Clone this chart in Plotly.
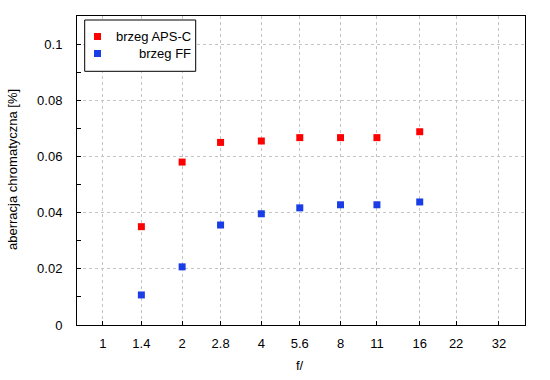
import plotly.graph_objects as go
import math

f_stops = [1, 1.4, 2, 2.8, 4, 5.6, 8, 11, 16, 22, 32]
f_labels = ["1", "1.4", "2", "2.8", "4", "5.6", "8", "11", "16", "22", "32"]

x_points = [1.4, 2, 2.8, 4, 5.6, 8, 11, 16]
aps_c = [0.035, 0.058, 0.065, 0.0655, 0.0667, 0.0667, 0.0667, 0.0688]
ff = [0.0107, 0.0207, 0.0356, 0.0396, 0.0417, 0.0428, 0.0428, 0.0438]

series_names = ["brzeg APS-C", "brzeg FF"]
series_colors = ["#ff0000", "#1a3de6"]

y_ticks = [0, 0.02, 0.04, 0.06, 0.08, 0.1]
y_labels = ["0", "0.02", "0.04", "0.06", "0.08", "0.1"]

x_title = "f/"
y_title = "aberracja chromatyczna [%]"

FONT = "Liberation Sans, Arial, sans-serif"
FS = 13

fig = go.Figure()
for name, vals, col in zip(series_names, [aps_c, ff], series_colors):
    fig.add_trace(go.Scatter(
        x=x_points, y=vals, mode="markers", name=name,
        marker=dict(symbol="square", size=7, color=col, line=dict(width=0)),
        showlegend=False, cliponaxis=False,
    ))

W, H = 550, 380
ml, mr, mt, mb = 77, 25, 16, 55
pw, ph = W - ml - mr, H - mt - mb

def px(x):
    return (x - ml) / pw

def py(y):
    return 1 - (y - mt) / ph

# custom legend (right-aligned text, boxed)
L, R = 84.7, 195.7
T, B = 20, 71.3
shapes = [dict(type="rect", xref="paper", yref="paper",
               x0=px(L), x1=px(R), y0=py(B), y1=py(T),
               line=dict(color="black", width=1), fillcolor="white", layer="above")]
annotations = []
rows_y = [36.5, 53.5]
for name, col, yy in zip(series_names, series_colors, rows_y):
    shapes.append(dict(type="rect", xref="paper", yref="paper",
                       x0=px(94), x1=px(101), y0=py(yy + 3.5), y1=py(yy - 3.5),
                       line=dict(width=0), fillcolor=col, layer="above"))
    annotations.append(dict(xref="paper", yref="paper", x=px(193), y=py(yy),
                            text=name, showarrow=False, xanchor="right", yanchor="middle",
                            font=dict(family=FONT, size=FS, color="black")))

# axis titles
annotations.append(dict(xref="paper", yref="paper", x=px(300), y=py(365),
                        text=x_title, showarrow=False, xanchor="center", yanchor="middle",
                        font=dict(family=FONT, size=FS, color="black")))
annotations.append(dict(xref="paper", yref="paper", x=px(12), y=py(170),
                        text=y_title, showarrow=False, xanchor="center", yanchor="middle",
                        textangle=-90,
                        font=dict(family=FONT, size=FS, color="black")))

fig.update_layout(
    width=W, height=H,
    margin=dict(l=ml, r=mr, t=mt, b=mb, autoexpand=False),
    paper_bgcolor="white", plot_bgcolor="white",
    font=dict(family=FONT, size=FS, color="black"),
    shapes=shapes, annotations=annotations,
    xaxis=dict(
        type="log", range=[math.log10(0.797), math.log10(40.2)],
        tickvals=f_stops, ticktext=f_labels,
        ticks="inside", ticklen=4, tickcolor="black",
        showline=True, linecolor="black", linewidth=1, mirror=True,
        showgrid=True, gridcolor="#c4c4c4", griddash="dot", gridwidth=1,
        zeroline=False, automargin=False,
        ticklabelstandoff=6,
        tickfont=dict(size=FS),
    ),
    yaxis=dict(
        range=[0, 0.11],
        tickvals=y_ticks, ticktext=y_labels,
        ticks="inside", ticklen=4, tickcolor="black",
        minor=dict(tickvals=[0.01, 0.03, 0.05, 0.07, 0.09], ticks="inside", ticklen=4,
                   tickcolor="black", showgrid=False),
        showline=True, linecolor="black", linewidth=1, mirror=True,
        showgrid=True, gridcolor="#c4c4c4", griddash="dot", gridwidth=1,
        zeroline=False, automargin=False,
        ticklabelstandoff=11,
        tickfont=dict(size=FS),
    ),
)

fig.write_html("out.html", config={"displayModeBar": False},
               post_script="document.body.style.margin='0';document.body.style.overflow='hidden';")
